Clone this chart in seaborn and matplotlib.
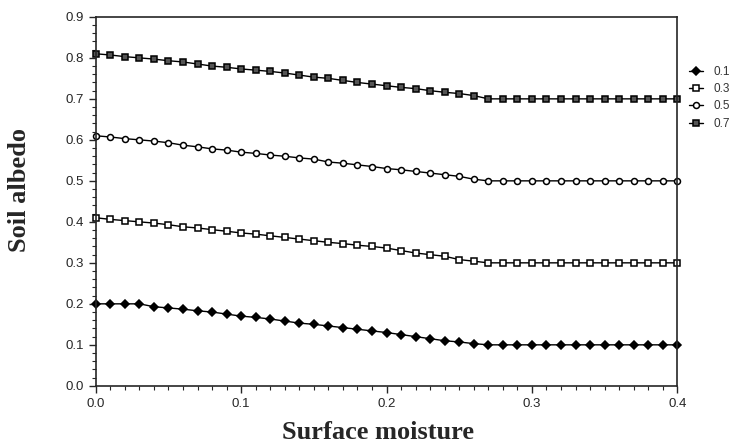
import numpy as np
import pandas as pd
import seaborn as sns
import matplotlib.pyplot as plt
from matplotlib.ticker import MultipleLocator, FormatStrFormatter

moisture = [round(i * 0.01, 2) for i in range(41)]

albedo_01 = [0.200, 0.200, 0.200, 0.200, 0.193, 0.190, 0.187, 0.183, 0.180, 0.175,
             0.170, 0.167, 0.163, 0.158, 0.153, 0.150, 0.146, 0.142, 0.138, 0.134,
             0.130, 0.125, 0.120, 0.115, 0.110, 0.107, 0.103, 0.100, 0.100, 0.100,
             0.100, 0.100, 0.100, 0.100, 0.100, 0.100, 0.100, 0.100, 0.100, 0.100, 0.100]
albedo_03 = [0.410, 0.406, 0.403, 0.400, 0.397, 0.393, 0.388, 0.385, 0.381, 0.377,
             0.373, 0.370, 0.366, 0.362, 0.358, 0.354, 0.350, 0.347, 0.343, 0.340,
             0.336, 0.330, 0.324, 0.320, 0.316, 0.308, 0.304, 0.300, 0.300, 0.300,
             0.300, 0.300, 0.300, 0.300, 0.300, 0.300, 0.300, 0.300, 0.300, 0.300, 0.300]
albedo_05 = [0.610, 0.607, 0.603, 0.600, 0.597, 0.593, 0.587, 0.583, 0.578, 0.575,
             0.570, 0.567, 0.563, 0.560, 0.556, 0.553, 0.546, 0.543, 0.539, 0.535,
             0.530, 0.527, 0.523, 0.519, 0.515, 0.511, 0.504, 0.500, 0.500, 0.500,
             0.500, 0.500, 0.500, 0.500, 0.500, 0.500, 0.500, 0.500, 0.500, 0.500, 0.500]
albedo_07 = [0.810, 0.807, 0.803, 0.800, 0.797, 0.793, 0.790, 0.785, 0.780, 0.777,
             0.773, 0.770, 0.767, 0.763, 0.758, 0.753, 0.750, 0.745, 0.740, 0.736,
             0.732, 0.728, 0.725, 0.720, 0.716, 0.713, 0.708, 0.700, 0.700, 0.700,
             0.700, 0.700, 0.700, 0.700, 0.700, 0.700, 0.700, 0.700, 0.700, 0.700, 0.700]

labels = ['0.1', '0.3', '0.5', '0.7']
series = [albedo_01, albedo_03, albedo_05, albedo_07]
markers = ['D', 's', 'o', 's']
faces = ['black', 'white', 'white', '#555555']
sizes = [3.6, 4.3, 4.3, 4.5]

sns.set_style('ticks')
plt.rcParams['font.family'] = ['Liberation Sans', 'DejaVu Sans']

fig = plt.figure(figsize=(7.37, 4.44), dpi=100)
ax = fig.add_axes([0.130, 0.131, 0.789, 0.831])

for lab, vals, m, fc, ms in zip(labels, series, markers, faces, sizes):
    df = pd.DataFrame({'moisture': moisture, 'albedo': vals})
    sns.lineplot(data=df, x='moisture', y='albedo', ax=ax, color='black',
                 linewidth=1.0, marker=m, markersize=ms, markerfacecolor=fc,
                 markeredgecolor='black', markeredgewidth=1.1, label=lab,
                 clip_on=False)

ax.set_xlim(0, 0.4)
ax.set_ylim(0, 0.9)
ax.xaxis.set_major_locator(MultipleLocator(0.1))
ax.xaxis.set_minor_locator(MultipleLocator(0.01))
ax.yaxis.set_major_locator(MultipleLocator(0.1))
ax.yaxis.set_minor_locator(MultipleLocator(0.02))
ax.xaxis.set_major_formatter(FormatStrFormatter('%.1f'))
ax.yaxis.set_major_formatter(FormatStrFormatter('%.1f'))
ax.tick_params(which='major', direction='out', length=5, width=1, labelsize=9.5)
ax.tick_params(which='minor', direction='out', length=3, width=0.8)
for s in ax.spines.values():
    s.set_linewidth(1.2)
    s.set_visible(True)

ax.set_xlabel('Surface moisture', fontsize=19, fontweight='bold',
              family=['Liberation Serif', 'DejaVu Serif'])
ax.set_ylabel('Soil albedo', fontsize=19, fontweight='bold',
              family=['Liberation Serif', 'DejaVu Serif'])
ax.xaxis.set_label_coords(0.485, -0.095)
ax.yaxis.set_label_coords(-0.112, 0.53)

ax.legend(loc='upper left', bbox_to_anchor=(1.012, 0.88), frameon=False,
          fontsize=8.5, handlelength=1.2, handletextpad=0.9, labelspacing=0.45,
          borderaxespad=0, labelcolor='#333333')

fig.savefig('out.png', dpi=100)
